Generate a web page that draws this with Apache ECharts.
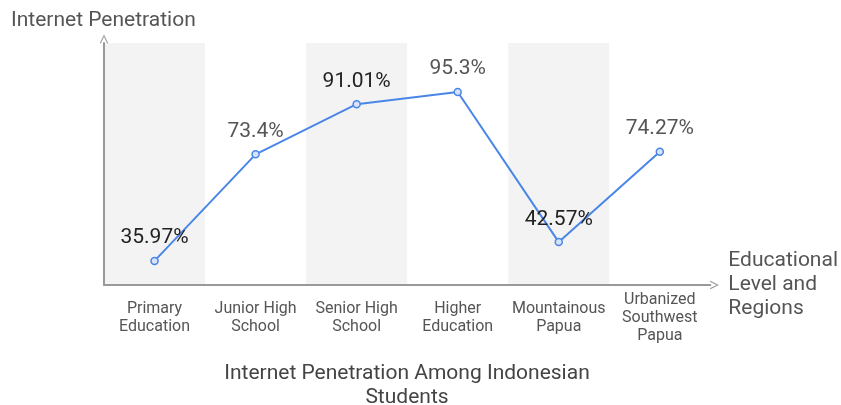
<!DOCTYPE html>
<html>
<head>
<meta charset="utf-8">
<script src="https://cdn.jsdelivr.net/npm/echarts@6/dist/echarts.min.js"></script>
<style>html,body{margin:0;padding:0;background:#fff;}#c{width:841px;height:405px;}</style>
</head>
<body>
<div id="c"></div>
<script>
const categories = ['Primary\nEducation', 'Junior High\nSchool', 'Senior High\nSchool', 'Higher\nEducation', 'Mountainous\nPapua', 'Urbanized\nSouthwest\nPapua'];
const penetration = [35.97, 73.4, 91.01, 95.3, 42.57, 74.27];
const labelColors = ['#222222', '#555555', '#222222', '#555555', '#222222', '#555555'];
const titleText = 'Internet Penetration Among Indonesian\nStudents';
const xName = 'Educational\nLevel and\nRegions';
const yName = 'Internet Penetration';

const chart = echarts.init(document.getElementById('c'), null, {renderer: 'canvas'});
const FONT = 'Roboto, "Noto Sans", sans-serif';
const axisColor = '#999999';
const arrowPath = 'path://M0,10 L5,0 L10,10 L8.8,10.7 L5,2.8 L1.2,10.7 Z';

chart.setOption({
  animation: false,
  backgroundColor: '#ffffff',
  title: [
    {
      text: titleText,
      left: 402,
      top: 357,
      textAlign: 'center',
      textStyle: {fontFamily: FONT, fontSize: 21, fontWeight: 'normal', color: '#444444', lineHeight: 24}
    },
    {
      text: yName,
      left: 6,
      top: 5,
      textStyle: {fontFamily: FONT, fontSize: 21, fontWeight: 'normal', color: '#555555'}
    }
  ],
  grid: {left: 104, right: 127, top: 43, bottom: 120, containLabel: false},
  xAxis: {
    type: 'category',
    data: categories,
    boundaryGap: true,
    name: xName,
    nameLocation: 'end',
    nameGap: 18,
    nameTextStyle: {fontFamily: FONT, fontSize: 21, color: '#555555', align: 'left', verticalAlign: 'middle', lineHeight: 24},
    axisLine: {show: true, symbol: ['none', arrowPath], symbolSize: [14, 9], symbolOffset: [0, 4], lineStyle: {color: axisColor, width: 2}},
    axisTick: {show: false},
    axisLabel: {fontFamily: FONT, fontSize: 16, color: '#555555', lineHeight: 18, margin: 33, verticalAlign: 'middle', interval: 0},
    splitLine: {show: false},
    splitArea: {show: true, areaStyle: {color: ['#f3f3f3', 'rgba(255,255,255,0)']}}
  },
  yAxis: {
    type: 'value',
    min: 27.5,
    max: 112.5,
    axisLine: {show: true, symbol: ['none', arrowPath], symbolSize: [14, 9], symbolOffset: [0, 4], lineStyle: {color: axisColor, width: 2}},
    axisTick: {show: false},
    axisLabel: {show: false},
    splitLine: {show: false}
  },
  series: [{
    type: 'line',
    data: penetration.map((v, i) => ({value: v, label: {color: labelColors[i]}})),
    symbol: 'circle',
    symbolSize: 7,
    lineStyle: {color: '#4a86e8', width: 2},
    itemStyle: {color: '#d6e3fa', borderColor: '#4a86e8', borderWidth: 1.5},
    label: {
      show: true,
      position: 'top',
      distance: 8,
      fontFamily: FONT,
      fontSize: 21,
      formatter: p => p.value + '%'
    },
    z: 3
  }]
});
</script>
</body>
</html>
